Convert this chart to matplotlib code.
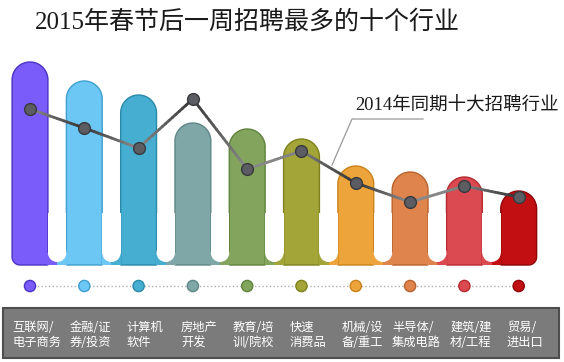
import numpy as np
import matplotlib.pyplot as plt
from matplotlib.patches import Polygon, Rectangle, Ellipse
from matplotlib.collections import LineCollection
from matplotlib.lines import Line2D

plt.rcParams['font.family'] = ['Noto Sans CJK SC', 'DejaVu Sans']

# data
categories = ['互联网/\n电子商务', '金融/证\n券/投资', '计算机\n软件', '房地产\n开发', '教育/培\n训/院校',
              '快速\n消费品', '机械/设\n备/重工', '半导体/\n集成电路', '建筑/建\n材/工程', '贸易/\n进出口']
values_2015 = [203, 184, 170, 142, 136, 126, 99, 93, 88, 74]
values_2014 = [156, 137, 117, 166, 96, 114, 82, 63, 79, 68]

colors = ['#7a5cfb', '#6cc7f4', '#46aed0', '#80a7a8', '#82a45c', '#a3a538',
          '#eda43a', '#df844c', '#da4a50', '#c10f12']
edges = ['#4b33c4', '#3f9fcf', '#2a8aaa', '#5f8788', '#5f823c', '#7f811c',
         '#c9821c', '#b9622c', '#b52a30', '#8e0606']

fig = plt.figure(figsize=(5.64, 3.62), dpi=100)
ax = fig.add_axes([0, 0, 1, 1])
sx = 54.3  # pixels per category step
ax.set_xlim(-30 / sx, (564 - 30) / sx)
ax.set_ylim(-(362 - 265), 265)
ax.axis('off')

x = np.arange(len(values_2015))
hw = 0.33
R = hw * sx


def bar_shape(x0, h, rbl, rbr):
    t = np.linspace(0, np.pi, 40)
    pts = list(zip(x0 + hw * np.cos(t), h - R + R * np.sin(t)))
    t = np.linspace(np.pi, 1.5 * np.pi, 10)
    cx = x0 - hw + rbl / sx
    pts += list(zip(cx + rbl / sx * np.cos(t), rbl + rbl * np.sin(t)))
    t = np.linspace(1.5 * np.pi, 2 * np.pi, 10)
    cx = x0 + hw - rbr / sx
    pts += list(zip(cx + rbr / sx * np.cos(t), rbr + rbr * np.sin(t)))
    return pts


n = len(values_2015)
for i, h in enumerate(values_2015):
    rbl = 8 if i == 0 else 0
    rbr = 8 if i == n - 1 else 0
    ax.add_patch(Polygon(bar_shape(x[i], h, rbl, rbr), closed=True,
                         facecolor=colors[i], edgecolor=edges[i], lw=1, zorder=2))

# joined bottom with white rounded gaps
gap = 1 - 2 * hw
pr = gap * sx / 2
for i in range(n - 1):
    gl = x[i] + hw
    ax.add_patch(Rectangle((gl - 0.01, 0), gap / 2 + 0.01, 12, facecolor=colors[i], lw=0, zorder=2))
    ax.add_patch(Rectangle((gl + gap / 2, 0), gap / 2 + 0.01, 12, facecolor=colors[i + 1], lw=0, zorder=2))
    ax.add_patch(Ellipse((gl + gap / 2, 3 + pr), gap, 2 * pr, facecolor='white', lw=0, zorder=3))
    ax.add_patch(Rectangle((gl, 3 + pr), gap, 40, facecolor='white', lw=0, zorder=3))

# 2014 line with shaded segments
shade = [0.55, 0.2, 0.55, 0.2, 0.55, 0.5, 0.2, 0.55, 0.5, 0.2]
segs, cols = [], []
for i in range(n - 1):
    for k in range(16):
        a, b = k / 16, (k + 1) / 16
        p0 = (x[i] + a, values_2014[i] + a * (values_2014[i + 1] - values_2014[i]))
        p1 = (x[i] + b, values_2014[i] + b * (values_2014[i + 1] - values_2014[i]))
        g = shade[i] + (a + b) / 2 * (shade[i + 1] - shade[i])
        segs.append([p0, p1])
        cols.append((g, g, g))
ax.add_collection(LineCollection(segs, colors=cols, linewidths=2, capstyle='round', zorder=4))
ax.plot(x, values_2014, 'o', ms=8.5, mfc='#5b5d63', mec='#38393c', mew=1, zorder=5)

# dots row
ax.plot(x, [-21] * n, ':', color='#b0b0b0', lw=1, zorder=1)
ax.scatter(x, [-21] * n, s=65, c=colors, edgecolors=edges, linewidths=1, zorder=2)

# label box
ax.add_patch(Rectangle((-27 / sx, -93), (556) / sx, 50, facecolor='#7b7b7b',
                       edgecolor='#4e4e4e', lw=1.5, zorder=1))
for i, lab in enumerate(categories):
    ax.text(x[i] + 0.12, -70, lab, ha='center', va='center', multialignment='left',
            fontsize=8.8, color='white', linespacing=1.25, zorder=3)

# title and annotation
fig.text(35 / 564, 1 - 22 / 362, '2015年春节后一周招聘最多的十个行业', ha='left', va='center',
         fontsize=18, color='#1a1a1a', family=['Liberation Serif', 'Noto Sans CJK SC'])
fig.text(355 / 564, 1 - 106 / 362, '2014年同期十大招聘行业', ha='left', va='center',
         fontsize=13.3, color='#1a1a1a', family=['Liberation Serif', 'Noto Sans CJK SC'])
fig.add_artist(Line2D(np.array([423, 352, 332]) / 564, 1 - np.array([119, 119, 165]) / 362,
                      color='#999999', lw=0.9))

fig.savefig('out.png', dpi=100)
